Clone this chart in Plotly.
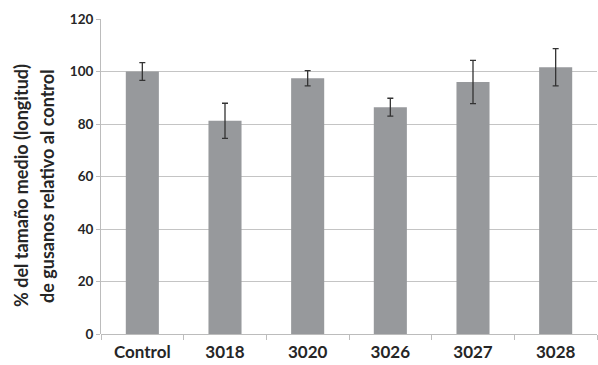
import plotly.graph_objects as go

categories = ["Control", "3018", "3020", "3026", "3027", "3028"]
values = [100.0, 81.2, 97.4, 86.4, 96.0, 101.6]
errors = [3.4, 6.7, 2.9, 3.4, 8.2, 7.1]
y_ticks = [0, 20, 40, 60, 80, 100, 120]
title_lines = ["% del tamaño medio (longitud)", "de gusanos relativo al control"]

W, H = 598, 365
ml, mr, mt, mb = 101, 1, 19, 31

fig = go.Figure(go.Bar(
    x=categories, y=values,
    marker=dict(color="#97999c", line=dict(width=0)),
    width=0.40,
    error_y=dict(type="data", array=errors, visible=True, color="#333333", thickness=1.3, width=3),
))

font_fam = "Lato, 'Open Sans', sans-serif"
fig.update_layout(
    width=W, height=H,
    margin=dict(l=ml, r=mr, t=mt, b=mb),
    paper_bgcolor="white", plot_bgcolor="white",
    showlegend=False,
    font=dict(family=font_fam, color="#262626"),
    xaxis=dict(
        showgrid=False, ticks="outside", tickson="boundaries", ticklen=5,
        tickcolor="#bdbdbd", showline=False, ticklabelstandoff=6,
        tickfont=dict(size=17, family=font_fam, weight="bold", color="#262626"),
    ),
    yaxis=dict(
        range=[0, 120], tickvals=y_ticks, showgrid=True, gridcolor="#c4c4c4", gridwidth=1,
        showline=True, linecolor="#bcbcbc", linewidth=1,
        ticks="outside", ticklen=4, tickcolor="#bcbcbc",
        zeroline=True, zerolinecolor="#bcbcbc", zerolinewidth=1,
        tickfont=dict(size=13.5, family=font_fam, weight="bold", color="#262626"),
    ),
    annotations=[dict(
        text=t,
        xref="paper", yref="paper",
        x=(xc - ml) / (W - ml - mr), y=0.47,
        xanchor="center", yanchor="middle", textangle=-90, showarrow=False,
        font=dict(size=18, family=font_fam, weight="bold", color="#262626"),
    ) for t, xc in zip(title_lines, [21, 47])],
)

fig.write_html("out.html")
